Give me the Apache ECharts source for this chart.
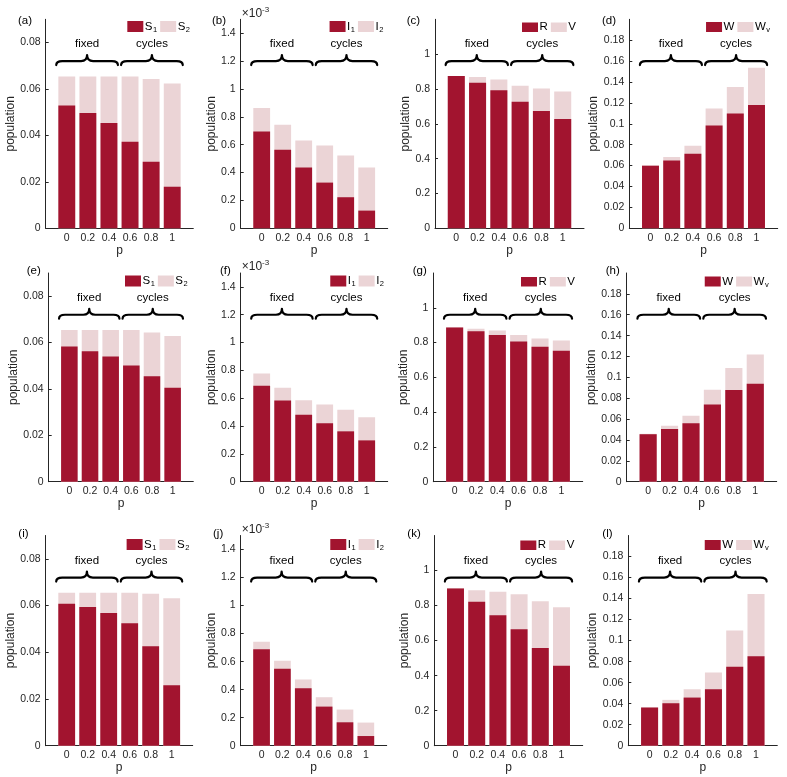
<!DOCTYPE html>
<html><head><meta charset="utf-8">
<script src="https://cdn.jsdelivr.net/npm/echarts@6/dist/echarts.min.js"></script>
<style>html,body{margin:0;padding:0;background:#fff}#c{width:787px;height:777px}</style>
</head><body><div id="c"></div>
<script>
// ---------- data ----------
const pValues = [0, 0.2, 0.4, 0.6, 0.8, 1];
const pTickLabels = ['0', '0.2', '0.4', '0.6', '0.8', '1'];
const braceLabels = ['fixed', 'cycles'];
const braceSpans = [[-0.1, 0.485], [0.515, 1.1]];

const S_ticks = [0, 0.02, 0.04, 0.06, 0.08];
const S_tickLabels = ['0', '0.02', '0.04', '0.06', '0.08'];
const I_ticks = [0, 0.2, 0.4, 0.6, 0.8, 1, 1.2, 1.4];           // ×10^-3
const I_tickLabels = ['0', '0.2', '0.4', '0.6', '0.8', '1', '1.2', '1.4'];
const R_ticks = [0, 0.2, 0.4, 0.6, 0.8, 1];
const R_tickLabels = ['0', '0.2', '0.4', '0.6', '0.8', '1'];
const W_ticks = [0, 0.02, 0.04, 0.06, 0.08, 0.1, 0.12, 0.14, 0.16, 0.18];
const W_tickLabels = ['0', '0.02', '0.04', '0.06', '0.08', '0.1', '0.12', '0.14', '0.16', '0.18'];

// row 1
const a_S1 = [0.0529, 0.0497, 0.0453, 0.0373, 0.0287, 0.0179];
const a_S2 = [0.0125, 0.0157, 0.0201, 0.0281, 0.0356, 0.0445];
const b_I1 = [0.695, 0.563, 0.436, 0.328, 0.223, 0.127];
const b_I2 = [0.168, 0.180, 0.195, 0.267, 0.300, 0.309];
const c_R  = [0.874, 0.836, 0.792, 0.726, 0.674, 0.627];
const c_V  = [0.001, 0.033, 0.063, 0.093, 0.128, 0.158];
const d_W  = [0.0599, 0.0650, 0.0714, 0.0983, 0.1099, 0.1179];
const d_Wv = [0.0004, 0.0032, 0.0077, 0.0164, 0.0253, 0.0358];
// row 2
const e_S1 = [0.0583, 0.0563, 0.0540, 0.0501, 0.0455, 0.0405];
const e_S2 = [0.0071, 0.0091, 0.0114, 0.0153, 0.0188, 0.0223];
const f_I1 = [0.690, 0.583, 0.482, 0.420, 0.362, 0.297];
const f_I2 = [0.087, 0.093, 0.103, 0.134, 0.156, 0.166];
const g_R  = [0.886, 0.865, 0.844, 0.806, 0.776, 0.753];
const g_V  = [0.002, 0.015, 0.025, 0.038, 0.048, 0.059];
const h_W  = [0.0455, 0.0506, 0.0561, 0.0740, 0.0878, 0.0939];
const h_Wv = [0.0004, 0.0029, 0.0070, 0.0141, 0.0211, 0.0281];
// row 3
const i_S1 = [0.0608, 0.0594, 0.0568, 0.0524, 0.0426, 0.0259];
const i_S2 = [0.0047, 0.0061, 0.0087, 0.0131, 0.0225, 0.0372];
const j_I1 = [0.689, 0.549, 0.410, 0.279, 0.167, 0.069];
const j_I2 = [0.053, 0.057, 0.062, 0.067, 0.091, 0.096];
const k_R  = [0.898, 0.822, 0.745, 0.665, 0.558, 0.457];
const k_V  = [0.002, 0.066, 0.134, 0.199, 0.266, 0.333];
const l_W  = [0.0363, 0.0404, 0.0458, 0.0538, 0.0751, 0.0852];
const l_Wv = [0.0004, 0.0032, 0.0080, 0.0159, 0.0346, 0.0592];

const panelTags = ['(a)','(b)','(c)','(d)','(e)','(f)','(g)','(h)','(i)','(j)','(k)','(l)'];
const panelKinds = ['S','I','R','W','S','I','R','W','S','I','R','W'];
const panelLower = [a_S1, b_I1, c_R, d_W, e_S1, f_I1, g_R, h_W, i_S1, j_I1, k_R, l_W];
const panelUpper = [a_S2, b_I2, c_V, d_Wv, e_S2, f_I2, g_V, h_Wv, i_S2, j_I2, k_V, l_Wv];

// ---------- layout / style ----------
const FONT = '"Liberation Sans", Arial, Helvetica, sans-serif';
const DARK = '#A2142F', LIGHT = '#EBD4D6', AX = '#262626';
const kinds = {
  S: {names: ['S1', 'S2'], yMax: 0.09, ticks: S_ticks, labels: S_tickLabels, iconH: 11},
  I: {names: ['I1', 'I2'], yMax: 1.5, ticks: I_ticks, labels: I_tickLabels, iconH: 11},
  R: {names: ['R', 'V'], yMax: 1.2, ticks: R_ticks, labels: R_tickLabels, iconH: 9.5},
  W: {names: ['W', 'Wv'], yMax: 0.2, ticks: W_ticks, labels: W_tickLabels, iconH: 10}
};
const richName = {S1: '{m|S}{s|1}', S2: '{m|S}{s|2}', I1: '{m|I}{s|1}', I2: '{m|I}{s|2}',
                  R: '{m|R}', V: '{m|V}', W: '{m|W}', Wv: '{m|W}{s|v}'};

const rowTop = [19.3, 273, 535.5];
const rowBottom = [228.3, 481.7, 745.7];
const gridLeft = [[45.7, 240.7, 435, 629.3], [48.7, 240.7, 433.3, 626.7], [45.7, 240.7, 434.3, 628.3]];
const gridRight = [[193.3, 387.7, 584, 777.7], [193.3, 387.7, 582.7, 776.7], [192.7, 386.7, 582.7, 777.3]];
const legendRightEdge = [[190, 383.3, 576, 770], [187.7, 384, 575, 768.7], [189.3, 384, 574.3, 768.7]];
const legendCenterY = [26, 280.5, 544];
const tagPos = [[18, 22], [212, 22], [406.7, 22], [602, 22],
                [26.7, 271.7], [220, 271.7], [412.7, 271.7], [605.7, 271.7],
                [18.3, 535], [213, 535], [407.3, 535], [602.3, 535]];
const W_PX = 787;

const grids = [], xAxes = [], yAxes = [], series = [], legends = [], titles = [];

for (let i = 0; i < 12; i++) {
  const r = Math.floor(i / 4), c = i % 4;
  const k = kinds[panelKinds[i]];
  const left = gridLeft[r][c], right = gridRight[r][c];
  const width = right - left, height = rowBottom[r] - rowTop[r];
  grids.push({left: left, top: rowTop[r], width: width, height: height, containLabel: false, outerBoundsMode: 'none'});

  xAxes.push({
    type: 'value', gridIndex: i, min: -0.2, max: 1.2, interval: 0.2,
    axisLine: {show: true, onZero: false, lineStyle: {color: AX, width: 1}},
    axisTick: {show: false},
    axisLabel: {customValues: pValues, margin: 4, fontSize: 10.5, color: AX, fontFamily: FONT,
      formatter: v => pTickLabels[pValues.findIndex(t => Math.abs(t - v) < 1e-9)] || ''},
    splitLine: {show: false},
    name: 'p', nameLocation: 'middle', nameGap: 12,
    nameTextStyle: {fontSize: 12, color: AX, fontFamily: FONT}
  });
  const ticks = k.ticks, labels = k.labels;
  yAxes.push({
    type: 'value', gridIndex: i, min: 0, max: k.yMax,
    axisLine: {show: true, onZero: false, lineStyle: {color: AX, width: 1}},
    axisTick: {show: true, inside: true, length: 3, customValues: ticks, lineStyle: {color: AX}},
    axisLabel: {customValues: ticks, margin: 5, fontSize: 10.5, color: AX, fontFamily: FONT,
      formatter: v => labels[ticks.findIndex(t => Math.abs(t - v) < 1e-9)] || ''},
    splitLine: {show: false},
    name: 'population', nameLocation: 'middle', nameGap: 23,
    nameTextStyle: {fontSize: 12, color: AX, fontFamily: FONT}
  });

  const bw = 0.8 * width / 7;
  const lower = panelLower[i], upper = panelUpper[i];
  // upper part: drawn as the full stacked height behind the lower part
  series.push({
    type: 'bar', name: k.names[1], xAxisIndex: i, yAxisIndex: i,
    barWidth: bw, barGap: '-100%', itemStyle: {color: LIGHT}, silent: true, z: 2,
    data: pValues.map((p, j) => [p, lower[j] + upper[j]])
  });
  series.push({
    type: 'bar', name: k.names[0], xAxisIndex: i, yAxisIndex: i,
    barWidth: bw, barGap: '-100%', itemStyle: {color: DARK}, silent: true, z: 3,
    data: pValues.map((p, j) => [p, lower[j]])
  });
  const level = 0.8 * k.yMax;
  series.push({
    type: 'custom', xAxisIndex: i, yAxisIndex: i, silent: true, z: 5,
    encode: {x: [0, 1], y: 2},
    data: braceSpans.map(s => [s[0], s[1], level]),
    renderItem: (params, api) => {
      const y = api.value(2);
      const a = api.coord([api.value(0), y]);
      const b = api.coord([api.value(1), y]);
      const xL = a[0], xR = b[0], y0 = a[1], xm = (xL + xR) / 2;
      const hE = 4, hT = 6, rr = 6;
      const d = `M${xL},${y0 + hE} Q${xL},${y0} ${xL + rr},${y0} L${xm - rr},${y0} Q${xm},${y0} ${xm},${y0 - hT} ` +
                `Q${xm},${y0} ${xm + rr},${y0} L${xR - rr},${y0} Q${xR},${y0} ${xR},${y0 + hE}`;
      return {type: 'group', children: [
        {type: 'path', shape: {pathData: d}, style: {stroke: '#000', fill: 'none', lineWidth: 2.2, lineCap: 'round', lineJoin: 'round'}},
        {type: 'text', style: {text: braceLabels[params.dataIndex], x: xm, y: y0 - hT - 11,
          align: 'center', verticalAlign: 'middle', textAlign: 'center', textVerticalAlign: 'middle',
          fill: '#000', font: `11.5px ${FONT}`}}
      ]};
    }
  });

  legends.push({
    data: k.names, right: W_PX - legendRightEdge[r][c], top: legendCenterY[r] - k.iconH / 2,
    orient: 'horizontal', padding: 0, itemGap: 3, itemWidth: 16, itemHeight: k.iconH,
    icon: 'rect', selectedMode: false,
    formatter: n => richName[n],
    textStyle: {color: '#000', fontFamily: FONT, fontSize: 11.5, padding: [0, 0, 0, -3.5],
      rich: {m: {fontSize: 11.5, fontFamily: FONT, color: '#000'},
             s: {fontSize: 7.5, fontFamily: FONT, color: '#000', padding: [6, 0, 0, 0.5]}}}
  });

  titles.push({text: panelTags[i], left: tagPos[i][0], top: tagPos[i][1] - 7, padding: 0,
    textStyle: {fontSize: 11.5, fontWeight: 'normal', color: '#000', fontFamily: FONT}});
  if (panelKinds[i] === 'I') {
    titles.push({text: '{a|×10}{b|-3}', left: left + 1, top: rowTop[r] - 14, padding: 0,
      textStyle: {fontWeight: 'normal', rich: {
        a: {fontSize: 12, lineHeight: 16, color: AX, fontFamily: FONT, fontWeight: 'normal'},
        b: {fontSize: 8, color: AX, fontFamily: FONT, fontWeight: 'normal', verticalAlign: 'top'}}}});
  }
}

const chart = echarts.init(document.getElementById('c'), null, {renderer: 'canvas', width: 787, height: 777});
chart.setOption({
  animation: false,
  backgroundColor: '#fff',
  title: titles,
  legend: legends,
  grid: grids,
  xAxis: xAxes,
  yAxis: yAxes,
  series: series
});
</script>
</body></html>
